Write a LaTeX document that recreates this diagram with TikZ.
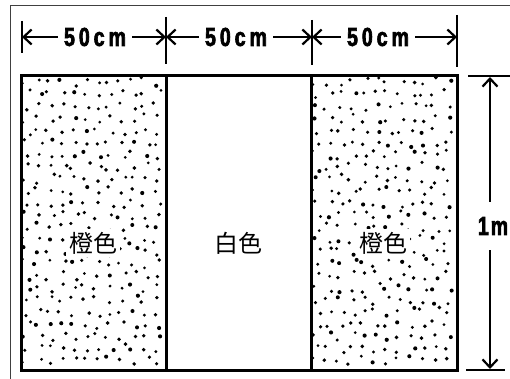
\documentclass[tikz,border=0pt]{standalone}
\usepackage{fontspec}
\setmainfont{Liberation Sans}
\newfontfamily\cjk{Noto Sans CJK SC}
\newfontfamily\dimfont{Liberation Sans}[FakeStretch=0.75, FakeBold=2.5]
\usetikzlibrary{arrows.meta}
\tikzset{
  framel/.style={draw=black!75, line width=1pt},
  panel/.style={draw=black, line width=3pt, line join=miter},
  tick/.style={line width=2.6pt},
  dimline/.style={line width=2.2pt, -{Straight Barb[length=8pt,width=15pt,line width=2.2pt]}},
  dimtext/.style={font=\dimfont\bfseries\fontsize{26}{26}\selectfont, inner xsep=6pt, inner ysep=2pt},
  lab/.style={fill=white, inner sep=3pt, font=\cjk\fontsize{24}{24}\selectfont},
  dot/.style={fill=black}
}
\newcommand{\spc}{\hspace{4pt}}
\begin{document}
\begin{tikzpicture}[x=1pt,y=-1pt]
\useasboundingbox (0,0) rectangle (510,379);
% outer frame
\draw[framel] (10,379) -- (10,6) -- (510,6);
% stipple dots
\pgfmathsetseed{4321}
\foreach \r in {0,...,23}{
  \foreach \c in {0,...,11}{
    \fill[dot] ({26.5+\c*11.9+(rnd-0.5)*9},{82+\r*12.1+(rnd-0.5)*9}) circle ({1.5+0.6*rnd});
    \fill[dot] ({316.5+\c*11.9+(rnd-0.5)*9},{82+\r*12.1+(rnd-0.5)*9}) circle ({1.5+0.6*rnd});
  }
}
% panels
\draw[panel] (21,76) rectangle (457,370);
\draw[panel] (166,76) -- (166,370);
\draw[panel] (311,76) -- (311,370);
% labels
\node[lab] (l1) at (93,243) {橙色};
\node[lab] (l2) at (238,243) {白色};
\node[lab] (l3) at (383,243) {橙色};
% top dimension ticks
\draw[tick] (22,21) -- (22,53);
\draw[tick] (166,17) -- (166,64);
\draw[tick] (312,20) -- (312,65);
\draw[tick] (457,15) -- (457,67);
\coordinate (a0) at (22,37);
\coordinate (a1) at (166,37);
\coordinate (a2) at (312,37);
\coordinate (a3) at (457,37);
\node[dimtext] (t1) at (95,37) {5\spc0\spc c\spc m};
\node[dimtext] (t2) at (236,37) {5\spc0\spc c\spc m};
\node[dimtext] (t3) at (378,37) {5\spc0\spc c\spc m};
\draw[dimline] (t1.west) -- (a0);
\draw[dimline] (t1.east) -- (a1);
\draw[dimline] (t2.west) -- (a1);
\draw[dimline] (t2.east) -- (a2);
\draw[dimline] (t3.west) -- (a2);
\draw[dimline] (t3.east) -- (a3);
% right dimension
\draw[tick] (468,76) -- (510,76);
\draw[tick] (466,370) -- (505,370);
\coordinate (v0) at (490,77);
\coordinate (v1) at (490,369);
\node[font=\dimfont\bfseries\fontsize{26}{26}\selectfont, inner xsep=2pt, inner ysep=15pt] (m) at (493,226) {1\hspace{2pt}m};
\draw[dimline] (m.north -| v0) -- (v0);
\draw[dimline] (m.south -| v1) -- (v1);
\end{tikzpicture}
\end{document}
